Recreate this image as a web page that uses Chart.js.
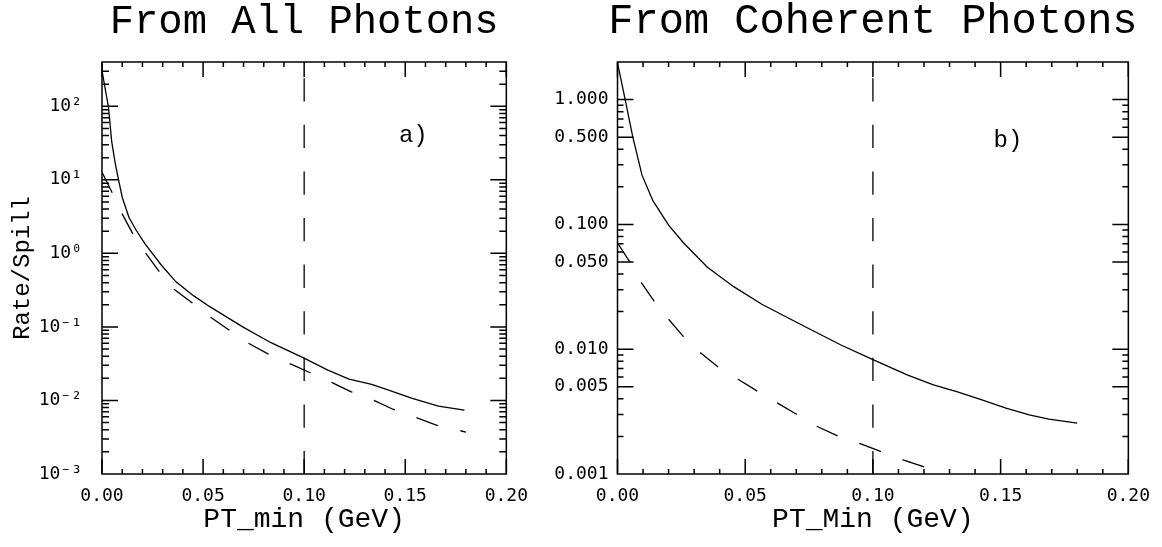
<!DOCTYPE html>
<html>
<head>
<meta charset="utf-8">
<script src="https://cdn.jsdelivr.net/npm/chart.js@4.4.1/dist/chart.umd.min.js"></script>
<style>
  html, body { margin: 0; padding: 0; background: #fff; }
  #wrap { position: relative; width: 1162px; height: 547px; overflow: hidden; }
  canvas { position: absolute; top: 0; }
  #chartA { left: 0; }
  #chartB { left: 540px; }
</style>
</head>
<body>
<div id="wrap">
  <canvas id="chartA" width="540" height="547"></canvas>
  <canvas id="chartB" width="622" height="547"></canvas>
</div>
<script>
// x axis (PT_min, GeV), shared by both panels
const xTicks = [0, 0.05, 0.10, 0.15, 0.20];
const xTickLabels = ['0.00', '0.05', '0.10', '0.15', '0.20'];
const ptCut = 0.10;

// panel a) from all photons
const aYMin = 0.001, aYMax = 400;
const aYTicks = [0.001, 0.01, 0.1, 1, 10, 100];
const aYTickLabels = ['10⁻³', '10⁻²', '10⁻¹', '10⁰', '10¹', '10²'];
const aSolidX = [0, 0.0032, 0.0048, 0.0065, 0.0082, 0.010, 0.0133, 0.0169, 0.0213, 0.0294, 0.0366,
  0.0454, 0.0535, 0.0696, 0.0836, 0.0997, 0.1117, 0.1222, 0.1334, 0.1407, 0.1535, 0.1664, 0.1793];
const aSolid = [305, 97, 33, 17, 10, 5.8, 3.1, 2.06, 1.35, 0.69, 0.41,
  0.264, 0.187, 0.100, 0.061, 0.038, 0.0258, 0.0195, 0.0165, 0.0141, 0.0107, 0.0084, 0.0074];
const aDashX = [0, 0.0051, 0.0101, 0.0154, 0.0218, 0.0285, 0.0358, 0.0447, 0.0539, 0.063, 0.0727,
  0.0823, 0.0957, 0.1029, 0.113, 0.1233, 0.1334, 0.1439, 0.1543, 0.165, 0.176, 0.18];
const aDash = [12.7, 6.6, 3.39, 1.81, 0.99, 0.558, 0.322, 0.212, 0.134, 0.090, 0.0594,
  0.0426, 0.0293, 0.0238, 0.0179, 0.0131, 0.01035, 0.0076, 0.0060, 0.00464, 0.00396, 0.0037];

// panel b) from coherent photons
const bYMin = 0.001, bYMax = 2;
const bYTicks = [0.001, 0.005, 0.01, 0.05, 0.1, 0.5, 1];
const bYTickLabels = ['0.001', '0.005', '0.010', '0.050', '0.100', '0.500', '1.000'];
const bSolidX = [0, 0.003, 0.006, 0.0096, 0.0139, 0.020, 0.0258, 0.0352, 0.0455, 0.0565, 0.0733,
  0.0875, 0.0998, 0.1134, 0.1237, 0.1328, 0.1418, 0.1521, 0.1612, 0.1689, 0.18];
const bSolid = [1.97, 1.0, 0.5, 0.248, 0.154, 0.0987, 0.0713, 0.0453, 0.0317, 0.0229, 0.0152,
  0.0108, 0.0083, 0.00623, 0.00518, 0.00458, 0.00398, 0.00337, 0.00298, 0.00275, 0.00256];
const bDashX = [0, 0.0048, 0.0094, 0.0145, 0.020, 0.0258, 0.0326, 0.0395, 0.0472, 0.055, 0.0627,
  0.0705, 0.0782, 0.0862, 0.095, 0.1025, 0.1118, 0.1205];
const bDash = [0.071, 0.050, 0.034, 0.024, 0.0174, 0.0126, 0.0093, 0.00718, 0.00575, 0.00458, 0.0037,
  0.00298, 0.0024, 0.00202, 0.00175, 0.00153, 0.0013, 0.00113];

Chart.defaults.font.family = '"DejaVu Sans Mono", monospace';
Chart.defaults.color = '#000';

const pts = (xs, ys) => xs.map((x, i) => ({ x: x, y: ys[i] }));

// box round the plot with inward ticks on all four sides, plus title and panel tag
const frame = {
  id: 'frame',
  afterDatasetsDraw(chart) {
    const { ctx, chartArea: a, scales: { x, y } } = chart;
    const o = chart.options.plugins.frame;
    ctx.save();
    ctx.strokeStyle = '#000';
    ctx.lineWidth = 1.5;
    ctx.strokeRect(a.left, a.top, a.right - a.left, a.bottom - a.top);
    ctx.beginPath();
    for (let i = 0; i <= 20; i++) {
      const px = x.getPixelForValue(i / 100);
      const len = i % 5 === 0 ? 15 : 5;
      ctx.moveTo(px, a.bottom); ctx.lineTo(px, a.bottom - len);
      ctx.moveTo(px, a.top); ctx.lineTo(px, a.top + len);
    }
    for (let e = -3; e <= 2; e++) {
      for (let k = 1; k <= 9; k++) {
        const v = k * Math.pow(10, e);
        if (v <= y.min * 1.0001 || v >= y.max * 0.9999) continue;
        const major = o.major.some(m => Math.abs(m - v) / v < 1e-6);
        const len = major ? 16 : o.minorLen;
        const py = y.getPixelForValue(v);
        ctx.moveTo(a.left, py); ctx.lineTo(a.left + len, py);
        ctx.moveTo(a.right, py); ctx.lineTo(a.right - len, py);
      }
    }
    ctx.stroke();
    ctx.restore();
  },
  afterDraw(chart) {
    const { ctx, chartArea: a, scales: { x, y } } = chart;
    const o = chart.options.plugins.frame;
    ctx.save();
    ctx.fillStyle = '#000';
    ctx.textAlign = 'center';
    ctx.textBaseline = 'middle';
    ctx.font = o.titleSize + 'px "Liberation Mono"';
    ctx.fillText(o.title, (a.left + a.right) / 2, 22);
    ctx.font = '24px "Liberation Mono"';
    ctx.fillText(o.tag, x.getPixelForValue(o.tagAt[0]), y.getPixelForValue(o.tagAt[1]));
    ctx.restore();
  }
};

function makePanel(id, p) {
  const line = { showLine: true, pointRadius: 0, borderColor: '#000', borderWidth: 1.3, tension: 0, fill: false };
  return new Chart(document.getElementById(id), {
    type: 'scatter',
    data: {
      datasets: [
        Object.assign({ data: pts(p.solidX, p.solid) }, line),
        Object.assign({ data: pts(p.dashX, p.dash), borderDash: [23, 23] }, line),
        Object.assign({ data: [{ x: ptCut, y: p.yMax }, { x: ptCut, y: p.yMin }],
          borderDash: [23.3, 23.3], borderDashOffset: 30.4 }, line)
      ]
    },
    options: {
      responsive: false,
      animation: false,
      events: [],
      devicePixelRatio: 1,
      layout: { padding: { top: 62, right: p.padRight, bottom: 0, left: 0 } },
      plugins: {
        legend: { display: false },
        tooltip: { enabled: false },
        frame: { title: p.title, titleSize: p.titleSize, tag: p.tag, tagAt: p.tagAt, major: p.yTicks, minorLen: p.minorLen }
      },
      scales: {
        x: {
          type: 'linear', min: 0, max: 0.2,
          afterBuildTicks: s => { s.ticks = xTicks.map(v => ({ value: v })); },
          afterFit: s => { s.height = 73; },
          ticks: { callback: (v, i) => xTickLabels[i], padding: 12, maxRotation: 0, autoSkip: false, font: { size: 18 } },
          grid: { display: false, drawTicks: false },
          border: { display: false },
          title: { display: true, text: p.xTitle, font: { family: '"Liberation Mono"', size: 28 }, padding: { top: 0, bottom: 11 } }
        },
        y: {
          type: 'logarithmic', min: p.yMin, max: p.yMax,
          afterBuildTicks: s => { s.ticks = p.yTicks.map(v => ({ value: v })); },
          afterFit: s => { s.width = p.yWidth; },
          ticks: { callback: (v, i) => p.yTickLabels[i], padding: p.yPad, autoSkip: false, font: { size: 18 } },
          grid: { display: false, drawTicks: false },
          border: { display: false },
          title: { display: p.yTitle !== '', text: p.yTitle, font: { family: '"Liberation Mono"', size: 24 }, padding: { top: 8, bottom: 0 } }
        }
      }
    },
    plugins: [frame]
  });
}

makePanel('chartA', {
  title: 'From All Photons', titleSize: 40.5, tag: 'a)', tagAt: [0.154, 40],
  solidX: aSolidX, solid: aSolid, dashX: aDashX, dash: aDash,
  yMin: aYMin, yMax: aYMax, yTicks: aYTicks, yTickLabels: aYTickLabels,
  xTitle: 'PT_min (GeV)', yTitle: 'Rate/Spill',
  yWidth: 102, yPad: 20, padRight: 25, minorLen: 7
});

makePanel('chartB', {
  title: 'From Coherent Photons', titleSize: 42, tag: 'b)', tagAt: [0.1529, 0.47],
  solidX: bSolidX, solid: bSolid, dashX: bDashX, dash: bDash,
  yMin: bYMin, yMax: bYMax, yTicks: bYTicks, yTickLabels: bYTickLabels,
  xTitle: 'PT_Min (GeV)', yTitle: '',
  yWidth: 77.5, yPad: 9, padRight: 29, minorLen: 6
});
</script>
</body>
</html>
